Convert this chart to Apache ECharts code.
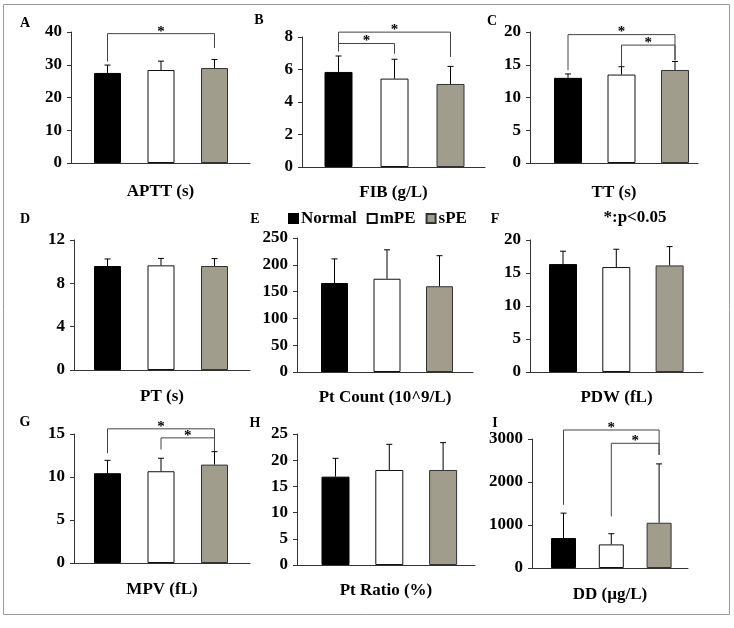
<!DOCTYPE html>
<html><head><meta charset="utf-8">
<script src="https://cdn.jsdelivr.net/npm/echarts@6/dist/echarts.min.js"></script>
<style>html,body{margin:0;padding:0;background:#fff}#c{width:734px;height:628px}</style>
</head><body><div id="c"></div>
<script>
// ---- data ----
const groups = ['Normal', 'mPE', 'sPE'];
const panelLetters = ['A', 'B', 'C', 'D', 'E', 'F', 'G', 'H', 'I'];
const panelNames = ['APTT (s)', 'FIB (g/L)', 'TT (s)', 'PT (s)', 'Pt Count (10^9/L)', 'PDW (fL)', 'MPV (fL)', 'Pt Ratio (%)', 'DD (µg/L)'];
const yMax  = [40, 8, 20, 12, 250, 20, 15, 25, 3000];
const yStep = [10, 2, 5, 4, 50, 5, 5, 5, 1000];
const meanNormal = [27.5, 5.85, 13.0, 9.60, 166, 16.35, 10.44, 16.86, 696];
const meanMPE    = [28.4, 5.44, 13.5, 9.66, 174, 15.90, 10.67, 18.13, 549];
const meanSPE    = [29.0, 5.11, 14.2, 9.60, 160, 16.15, 11.44, 18.13, 1052];
const sdNormal   = [2.4, 0.98, 0.6, 0.65, 45, 1.95, 1.50, 3.50, 580];
const sdMPE      = [2.7, 1.19, 1.2, 0.64, 54, 2.70, 1.51, 4.90, 248];
const sdSPE      = [2.6, 1.08, 1.3, 0.68, 57, 2.85, 1.51, 5.22, 1369];
// significance brackets: [fromGroup, toGroup, top, leftLegEnd, rightLegEnd]
const brackets = [
  [[1, 3, 39.5, 31.0, 35.1]],
  [[1, 3, 8.3, 7.12, 6.77], [1, 2, 7.6, 7.12, 6.97]],
  [[1, 3, 19.6, 14.2, 15.7], [2, 3, 18.0, 14.8, 15.7]],
  [], [], [],
  [[1, 3, 15.6, 12.76, 13.05], [2, 3, 14.55, 13.2, 13.05]],
  [],
  [[1, 3, 3209, 1469, 2630], [2, 3, 2900, 1199, 2630]]
];
const noteText = '*:p<0.05';

// ---- layout (pixels): axis left, axis right, y of max, y of zero, first bar centre, bar spacing, bar width, name gap
const layout = [
  [71, 250, 32, 163, 107.5, 53.5, 27, 20],
  [302, 485, 37, 167, 338.5, 56, 28, 17],
  [530, 698, 32, 163, 568, 53.5, 28, 21],
  [74, 250, 240, 370, 107.5, 53.5, 27, 18],
  [297, 473, 238, 372, 334.5, 52.5, 27, 17],
  [530, 703, 240, 372, 563, 53.3, 28, 17],
  [74, 250, 434, 563, 107.5, 53.5, 27, 18],
  [297, 475, 434, 565, 335.5, 53.8, 28, 17],
  [532, 688, 439, 568, 563.5, 47.8, 25, 18]
];
const letterPos = [[25,23],[259,20],[492,21],[25,219],[255,219],[495,219],[25,422],[255,423],[495,423]];

const FONT = '"Liberation Serif", "Times New Roman", serif';
const barStyles = [
  {color: '#000000', borderColor: '#000', borderWidth: 1},
  {color: '#ffffff', borderColor: '#111', borderWidth: 1},
  {color: '#a09d8c', borderColor: '#333', borderWidth: 1}
];
const means = [meanNormal, meanMPE, meanSPE];
const sds = [sdNormal, sdMPE, sdSPE];

const grids = [], xAxes = [], yAxes = [], series = [];
layout.forEach((L, i) => {
  const [l, r, t, b, c1, s, bw, gap] = L;
  grids.push({left: l, top: t, width: r - l, height: b - t, containLabel: false});
  xAxes.push({
    gridIndex: i, type: 'value', min: 1 - (c1 - l) / s, max: 1 + (r - c1) / s,
    axisLine: {show: true, onZero: false, lineStyle: {color: '#333', width: 1}},
    axisTick: {show: false}, axisLabel: {show: false}, splitLine: {show: false},
    name: panelNames[i], nameLocation: 'middle', nameGap: gap,
    nameTextStyle: {fontFamily: FONT, fontWeight: 'bold', fontSize: 17, color: '#000', verticalAlign: 'top'}
  });
  yAxes.push({
    gridIndex: i, type: 'value', min: 0, max: yMax[i], interval: yStep[i],
    axisLine: {show: true, lineStyle: {color: '#333', width: 1}},
    axisTick: {show: true, length: 4, lineStyle: {color: '#333'}},
    axisLabel: {fontFamily: FONT, fontWeight: 'bold', fontSize: 17, color: '#000', margin: 9,
      formatter: function (v) { return String(v); }},
    splitLine: {show: false}
  });
  groups.forEach((g, k) => {
    series.push({
      name: g, type: 'bar', xAxisIndex: i, yAxisIndex: i, barWidth: bw, barGap: '-100%',
      itemStyle: barStyles[k], silent: true,
      data: [[k + 1, means[k][i]]]
    });
  });
  series.push({
    type: 'custom', xAxisIndex: i, yAxisIndex: i, z: 5, silent: true,
    data: groups.map((g, k) => [k + 1, means[k][i], sds[k][i]]),
    renderItem: function (params, api) {
      const x = api.value(0), m = api.value(1), sd = api.value(2);
      const p0 = api.coord([x, m]), p1 = api.coord([x, m + sd]);
      return {type: 'group', children: [
        {type: 'line', shape: {x1: p0[0], y1: p0[1], x2: p1[0], y2: p1[1]}, style: {stroke: '#000', lineWidth: 1}},
        {type: 'line', shape: {x1: p1[0] - 3, y1: p1[1], x2: p1[0] + 3, y2: p1[1]}, style: {stroke: '#000', lineWidth: 1}}
      ]};
    }
  });
  if (brackets[i].length) {
    series.push({
      type: 'custom', xAxisIndex: i, yAxisIndex: i, z: 6, silent: true, clip: false,
      data: brackets[i],
      renderItem: function (params, api) {
        const a = api.value(0), bb = api.value(1), top = api.value(2), le = api.value(3), re = api.value(4);
        const pL = api.coord([a, le]), pTL = api.coord([a, top]), pTR = api.coord([bb, top]), pR = api.coord([bb, re]);
        return {type: 'group', children: [
          {type: 'polyline', shape: {points: [pL, pTL, pTR, pR]}, style: {stroke: '#444', fill: null, lineWidth: 1}},
          {type: 'text', style: {text: '*', x: (pTL[0] + pTR[0]) / 2, y: pTL[1] - 2, align: 'center', verticalAlign: 'middle',
            font: 'bold 15px ' + FONT, fill: '#000'}}
        ]};
      }
    });
  }
});

const graphics = [{type: 'rect', shape: {x: 3.5, y: 4.5, width: 726, height: 610}, style: {stroke: '#9a9a9a', fill: null, lineWidth: 1}, silent: true}];
panelLetters.forEach((t, i) => {
  graphics.push({type: 'text', x: letterPos[i][0], y: letterPos[i][1], style: {text: t, font: 'bold 14px ' + FONT, fill: '#000', align: 'center', verticalAlign: 'middle'}});
});
graphics.push({type: 'text', x: 635, y: 218, style: {text: noteText, font: 'bold 17px ' + FONT, fill: '#000', align: 'center', verticalAlign: 'middle'}});

const chart = echarts.init(document.getElementById('c'), null, {renderer: 'canvas'});
chart.setOption({
  animation: false,
  backgroundColor: '#ffffff',
  grid: grids, xAxis: xAxes, yAxis: yAxes, series: series,
  legend: {
    data: groups, left: 283, top: 205, icon: 'rect', itemWidth: 9, itemHeight: 9, itemGap: 10,
    selectedMode: false,
    textStyle: {fontFamily: FONT, fontWeight: 'bold', fontSize: 17, color: '#000', padding: [0, 0, 0, -2]}
  },
  graphic: graphics
});
</script></body></html>
